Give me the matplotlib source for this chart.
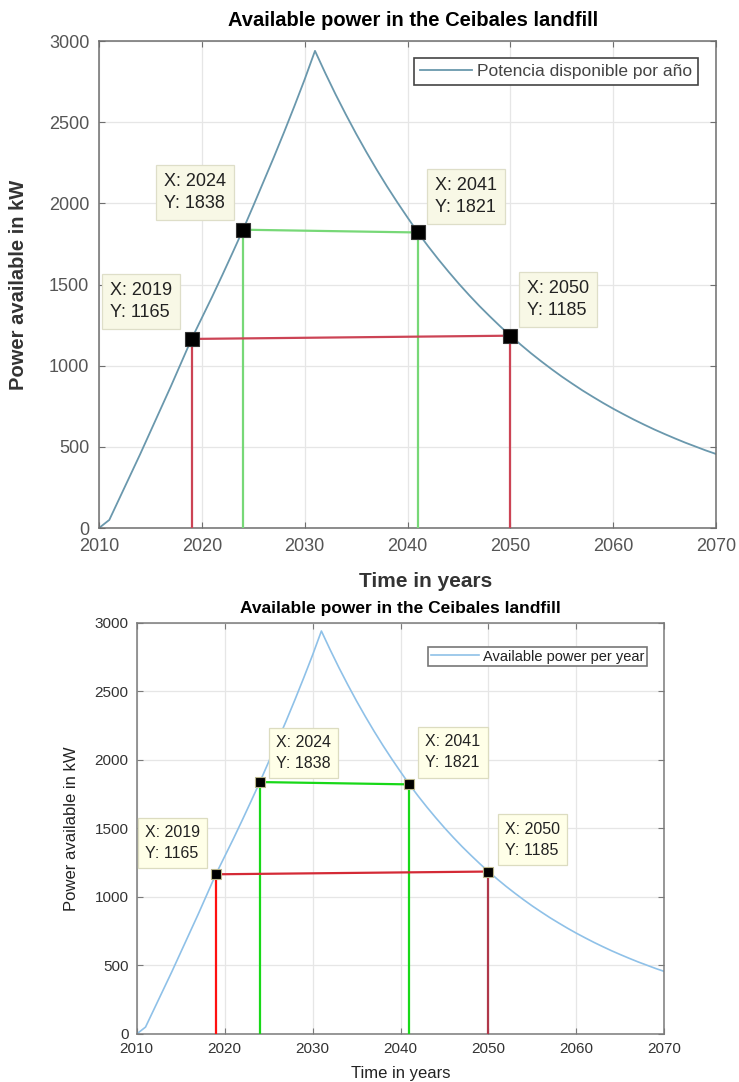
import matplotlib
matplotlib.use("Agg")
import matplotlib.pyplot as plt

plt.rcParams["font.family"] = ["Liberation Sans", "DejaVu Sans"]

# yearly available power (kW)
years = list(range(2010, 2071))
power = [0, 50, 185, 320, 455, 595, 735, 875, 1020, 1165,
         1295, 1425, 1560, 1698, 1838, 1985, 2135, 2285, 2440, 2600,
         2765, 2940, 2803, 2672, 2548, 2429, 2316, 2208, 2105, 2007,
         1913, 1821, 1736, 1655, 1578, 1504, 1434, 1367, 1304, 1243,
         1185, 1130, 1077, 1027, 979, 933, 890, 848, 809, 771,
         735, 701, 668, 637, 607, 579, 552, 526, 502, 478,
         456]

# data tips
tip_years = [2019, 2024, 2041, 2050]
tip_power = [1165, 1838, 1821, 1185]
# pairs joined by a horizontal line (indices into tip lists)
pairs = [(0, 3), (1, 2)]

title = "Available power in the Ceibales landfill"
xlabel = "Time in years"
ylabel = "Power available in kW"
legend_top = "Potencia disponible por año"
legend_bottom = "Available power per year"

fig = plt.figure(figsize=(7.39, 10.82), dpi=100)


def draw(ax, s):
    ax.set_xlim(2010, 2070)
    ax.set_ylim(0, 3000)
    ax.set_xticks(range(2010, 2071, 10))
    ax.set_yticks(range(0, 3001, 500))
    ax.grid(True, color="#e6e6e6", linewidth=0.9)
    ax.set_axisbelow(True)
    for sp in ax.spines.values():
        sp.set_color(s["spine"])
        sp.set_linewidth(1.1)
    ax.tick_params(direction="in", top=True, right=True, length=4,
                   color=s["spine"], labelsize=s["tick_fs"],
                   labelcolor=s["tick_c"], pad=s["tick_pad"])

    ax.plot(years, power, color=s["curve"], lw=s["curve_lw"], label=s["legend"], zorder=2)

    # vertical drop lines
    for yr, p, c in zip(tip_years, tip_power, s["vcolors"]):
        ax.plot([yr, yr], [0, p], color=c, lw=1.6, zorder=3)
    # horizontal links
    for (i, j), c in zip(pairs, s["hcolors"]):
        ax.plot([tip_years[i], tip_years[j]], [tip_power[i], tip_power[j]],
                color=c, lw=1.6, zorder=3)

    ax.plot(tip_years, tip_power, ls="none", marker="s", ms=s["ms"],
            mfc="black", mec=s["mec"], mew=0.8, zorder=5)

    for yr, p, off in zip(tip_years, tip_power, s["offsets"]):
        ax.annotate(f"X: {yr}\nY: {p}", xy=(yr, p), xytext=off, textcoords="offset points",
                    ha="right" if off[0] < 0 else "left", va="bottom", multialignment="left",
                    fontsize=s["tip_fs"], linespacing=s["tip_ls"], color="#222222",
                    bbox=dict(boxstyle=f"square,pad={s['tip_pad']}", fc=s["tip_fc"],
                              ec=s["tip_ec"], lw=0.9),
                    zorder=6)

    leg = ax.legend(loc="upper right", bbox_to_anchor=s["leg_anchor"], borderaxespad=0,
                    fontsize=s["leg_fs"], handlelength=s["leg_hl"], handletextpad=0.3,
                    borderpad=s["leg_bp"], fancybox=False, framealpha=1,
                    edgecolor=s["leg_ec"])
    leg.get_frame().set_linewidth(1.2)
    for t in leg.get_texts():
        t.set_color(s["leg_tc"])

    ax.text(s["title_xy"][0], s["title_xy"][1], title, transform=ax.transAxes,
            ha="center", va="center", fontsize=s["title_fs"], fontweight="bold", color="black")
    ax.set_xlabel(xlabel, fontsize=s["xl_fs"], fontweight=s["lab_w"], color=s["lab_c"])
    ax.set_ylabel(ylabel, fontsize=s["yl_fs"], fontweight=s["lab_w"], color=s["lab_c"])
    ax.xaxis.set_label_coords(*s["xl_xy"])
    ax.yaxis.set_label_coords(*s["yl_xy"])


top_style = dict(
    spine="#6e6e6e", tick_fs=13, tick_c="#555555", tick_pad=7,
    curve="#6a98ad", curve_lw=1.3, legend=legend_top,
    vcolors=["#cc4455", "#77d877", "#77d877", "#cc4455"],
    hcolors=["#cc4455", "#77d877"],
    ms=9.5, mec="#333333",
    offsets=[(-14, 13), (-12.5, 13), (12.5, 12), (12, 12)],
    tip_fs=13, tip_ls=1.35, tip_pad=0.45, tip_fc="#f8f8e6", tip_ec="#dedec8",
    leg_anchor=(0.971, 0.965), leg_fs=12.5, leg_hl=3.0, leg_bp=0.35,
    leg_ec="#444444", leg_tc="#444444",
    title_xy=(0.509, 1.043), title_fs=14.5,
    xl_fs=15, yl_fs=14.5, lab_w="bold", lab_c="#333333",
    xl_xy=(0.53, -0.09), yl_xy=(-0.115, 0.5),
)

bottom_style = dict(
    spine="#7a7a7a", tick_fs=11, tick_c="#333333", tick_pad=6,
    curve="#8fc1e8", curve_lw=1.2, legend=legend_bottom,
    vcolors=["#ff1010", "#18d818", "#18d818", "#b0384a"],
    hcolors=["#d42a36", "#18d818"],
    ms=7.5, mec="#b8b48a",
    offsets=[(-11.5, 9.5), (11.5, 8), (11.5, 10), (12, 10)],
    tip_fs=11.5, tip_ls=1.5, tip_pad=0.45, tip_fc="#ffffe8", tip_ec="#dcdcc0",
    leg_anchor=(0.968, 0.942), leg_fs=10.5, leg_hl=3.3, leg_bp=0.2,
    leg_ec="#777777", leg_tc="#222222",
    title_xy=(0.5, 1.034), title_fs=12.5,
    xl_fs=12, yl_fs=12, lab_w="normal", lab_c="#222222",
    xl_xy=(0.5, -0.078), yl_xy=(-0.11, 0.5),
)

ax1 = fig.add_axes([0.134, 0.512, 0.835, 0.450])
draw(ax1, top_style)

ax2 = fig.add_axes([0.185, 0.0444, 0.714, 0.380])
draw(ax2, bottom_style)

fig.savefig("out.png", dpi=100)
